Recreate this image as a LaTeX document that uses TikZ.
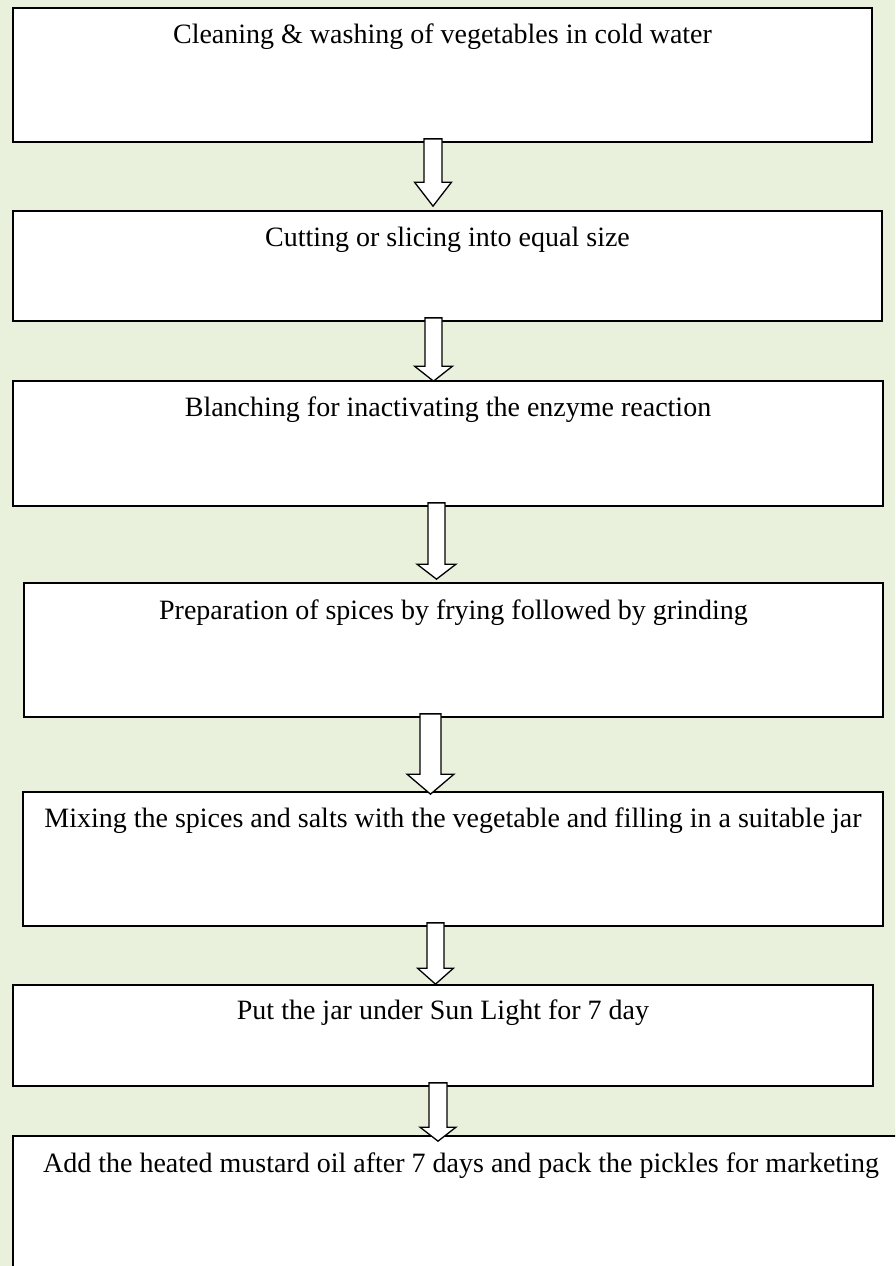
\documentclass[tikz,border=0pt]{standalone}
\usepackage{fontspec}
\setmainfont{Liberation Serif}
\usetikzlibrary{calc}
\definecolor{bggreen}{RGB}{233,240,220}
\tikzset{
  stepbox/.style={draw=black, line width=1.7pt, fill=white},
  steptext/.style={anchor=base, font=\fontsize{28}{32}\selectfont, inner sep=0pt},
  blockarr/.style={draw=black, line width=1.3pt, fill=white, line join=miter},
}
% #1 from, #2 to, #3 cx, #4 shaft half width, #5 head half width, #6 head length, #7 tip offset below top of #2
\newcommand\blockarrow[7]{%
  \draw[blockarr] let \p1=(#1.south), \p2=(#2.north) in
    ({#3pt-#4pt},{\y1+4pt}) -- ({#3pt-#4pt},{\y2-(#7pt)+#6pt}) -- ({#3pt-#5pt},{\y2-(#7pt)+#6pt})
    -- ({#3pt},{\y2-(#7pt)}) -- ({#3pt+#5pt},{\y2-(#7pt)+#6pt}) -- ({#3pt+#4pt},{\y2-(#7pt)+#6pt})
    -- ({#3pt+#4pt},{\y1+4pt}) -- cycle;}
\begin{document}
\begin{tikzpicture}[x=1pt,y=-1pt]
\useasboundingbox (0,0) rectangle (895,1266);
\fill[bggreen] (0,0) rectangle (895,1266);
\clip (0,0) rectangle (895,1266);
% boxes
\node[stepbox, minimum width=859pt, minimum height=134pt] (b1) at (442.5,75) {};
\node[stepbox, minimum width=869pt, minimum height=110pt] (b2) at (447.5,266) {};
\node[stepbox, minimum width=870pt, minimum height=125pt] (b3) at (448,443.5) {};
\node[stepbox, minimum width=859pt, minimum height=134pt] (b4) at (453.5,650) {};
\node[stepbox, minimum width=860pt, minimum height=134pt] (b5) at (453,859) {};
\node[stepbox, minimum width=860pt, minimum height=101pt] (b6) at (443,1035.5) {};
\node[stepbox, minimum width=900pt, minimum height=160pt] (b7) at (463,1216) {};
% texts
\node[steptext] (t1) at ($(b1.north)+(0,36)$) {Cleaning \& washing of vegetables in cold water};
\node[steptext] (t2) at ($(b2.north)+(0,36)$) {Cutting or slicing into equal size};
\node[steptext] (t3) at ($(b3.north)+(0,36)$) {Blanching for inactivating the enzyme reaction};
\node[steptext] (t4) at ($(b4.north)+(0,37)$) {Preparation of spices by frying followed by grinding};
\node[steptext] (t5) at ($(b5.north)+(0,36)$) {Mixing the spices and salts with the vegetable and filling in a suitable jar};
\node[steptext] (t6) at ($(b6.north)+(0,35)$) {Put the jar under Sun Light for 7 day};
\node[steptext] (t7) at ($(b7.north)+(-2,37)$) {Add the heated mustard oil after 7 days and pack the pickles for marketing};
% block arrows
\blockarrow{b1}{b2}{433}{9}{18.5}{24}{-4}
\blockarrow{b2}{b3}{433.5}{8.5}{19}{15}{1}
\blockarrow{b3}{b4}{436.5}{8.5}{19.5}{15}{-3}
\blockarrow{b4}{b5}{430.5}{10.5}{23.5}{20}{3}
\blockarrow{b5}{b6}{435.5}{8.5}{18}{16}{0}
\blockarrow{b6}{b7}{438}{9}{18}{14}{6}
\end{tikzpicture}
\end{document}
